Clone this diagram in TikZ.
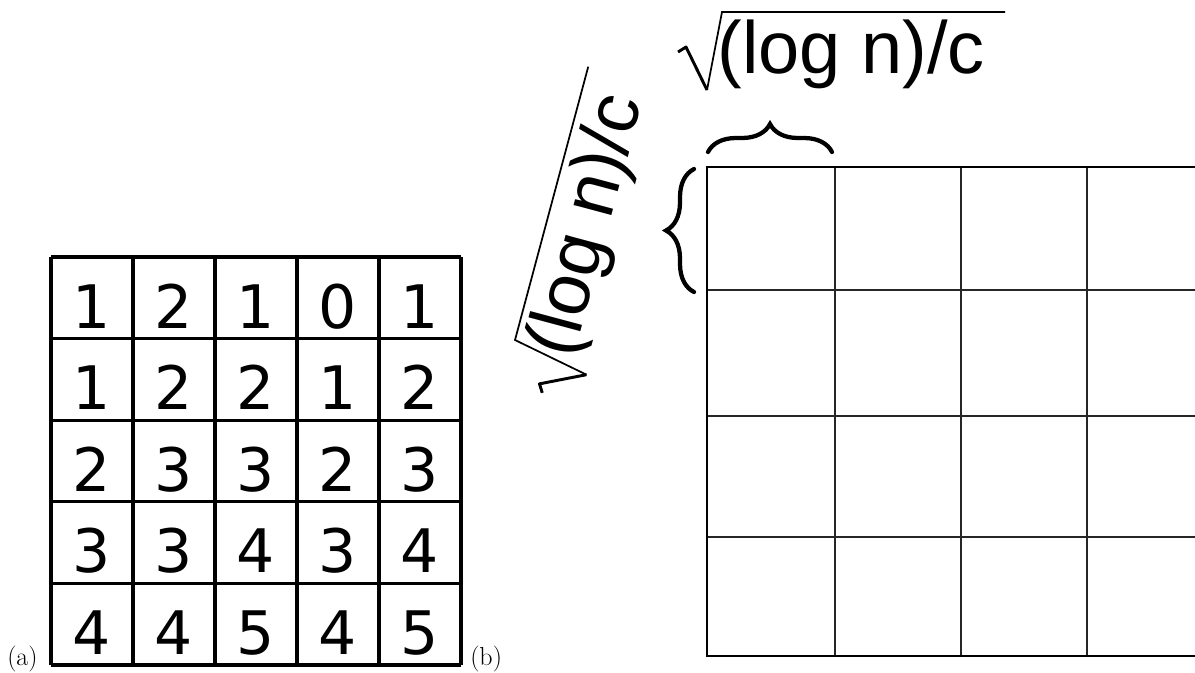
\documentclass[tikz,border=0pt]{standalone}
\usepackage{fontspec}
\newfontfamily\labelfont{Liberation Sans}
\newfontfamily\digitfont{DejaVu Sans}
\usetikzlibrary{decorations.pathreplacing}

\begin{document}
\begin{tikzpicture}[x=0.75pt,y=-0.75pt,
  digit/.style={inner sep=0pt, anchor=base, font=\digitfont\fontsize{45}{50}\selectfont},
  tag/.style={inner sep=0pt, anchor=base west, font=\fontsize{19.5}{22}\selectfont},
  sizelabel/.style={inner sep=0pt, anchor=base west, font=\labelfont\fontsize{55.5}{60}\selectfont},
  heavygrid/.style={line width=2.3pt, black},
  lightgrid/.style={line width=1.3pt, black!85},
  lightframe/.style={line width=1.8pt, black},
  bracestroke/.style={line width=3.2pt, black, line cap=round, decorate,
    decoration={brace, amplitude=21pt}},
  rootthick/.style={line width=2.2pt, black, line join=round},
  rootthin/.style={line width=1.3pt, black},
]
\clip (0,0) rectangle (1195,672);
\fill[white] (0,0) rectangle (1195,672);

% ---- (a): table of values ----
\foreach \i in {0,...,5} {
  \draw[heavygrid] (51+82*\i,257) -- (51+82*\i,665);
  \draw[heavygrid] (51,257+81.6*\i) -- (461,257+81.6*\i);
}
\foreach \row [count=\r] in {{1,2,1,0,1},{1,2,2,1,2},{2,3,3,2,3},{3,3,4,3,4},{4,4,5,4,5}} {
  \foreach \v [count=\c] in \row {
    \node[digit] (d-\r-\c) at (51+82*\c-41,257+81.6*\r-10.5) {\v};
  }
}
\node[tag] (taga) at (7,665) {(a)};
\node[tag] (tagb) at (470,665) {(b)};

% ---- (b): block grid ----
\foreach \xx in {835,961,1087} \draw[lightgrid] (\xx,167) -- (\xx,656);
\foreach \yy in {290,416,537} \draw[lightgrid] (707,\yy) -- (1213,\yy);
\draw[lightframe] (1213,167) -- (707,167) -- (707,656) -- (1213,656);

% braces marking one block
\coordinate (tb-l) at (708,152);
\coordinate (tb-r) at (832,152);
\coordinate (lb-b) at (694,292);
\coordinate (lb-t) at (694,169);
\draw[bracestroke] (tb-l) -- (tb-r);
\draw[bracestroke] (lb-b) -- (lb-t);

% block side length, horizontal
\begin{scope}[shift={(722,12)}]
  \draw[rootthick] (-44,40) -- (-36,35) -- (-15,78);
  \draw[rootthin] (-15,78) -- (0,0) -- (283,0);
  \node[sizelabel] (side-h) at (-4.5,61) {(log n)/c};
\end{scope}

% block side length, vertical
\begin{scope}[shift={(515,340)}, rotate=75, transform shape]
  \draw[rootthick] (-44,40) -- (-36,35) -- (-15,78);
  \draw[rootthin] (-15,78) -- (0,0) -- (283,0);
  \node[sizelabel] (side-v) at (-4.5,61) {(log n)/c};
\end{scope}
\end{tikzpicture}
\end{document}
